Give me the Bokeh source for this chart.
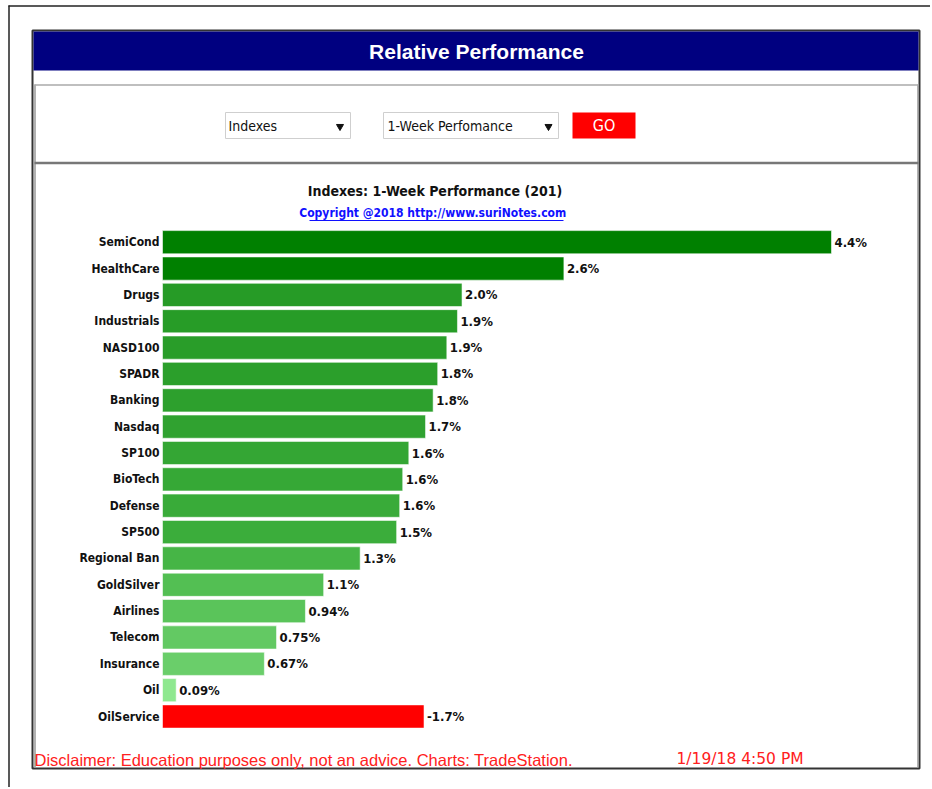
from bokeh.plotting import figure
from bokeh.models import Range1d, ColumnDataSource
from bokeh.embed import file_html
from bokeh.resources import INLINE
from bokeh.core.properties import value

# ---------------- data ----------------
categories = ["SemiCond", "HealthCare", "Drugs", "Industrials", "NASD100", "SPADR",
              "Banking", "Nasdaq", "SP100", "BioTech", "Defense", "SP500",
              "Regional Ban", "GoldSilver", "Airlines", "Telecom", "Insurance",
              "Oil", "OilService"]
perf = [4.40, 2.64, 1.97, 1.94, 1.87, 1.81, 1.78, 1.73, 1.62, 1.58, 1.56, 1.54,
        1.30, 1.06, 0.94, 0.75, 0.67, 0.09, -1.72]
perf_labels = ["4.4%", "2.6%", "2.0%", "1.9%", "1.9%", "1.8%", "1.8%", "1.7%",
               "1.6%", "1.6%", "1.6%", "1.5%", "1.3%", "1.1%", "0.94%", "0.75%",
               "0.67%", "0.09%", "-1.7%"]
bar_colors = ["#008000", "#008000", "#269b26", "#279c27", "#299d29", "#2b9f2b",
              "#2da02d", "#30a230", "#34a634", "#36a836", "#39ab39", "#3bad3b",
              "#46b546", "#53bf53", "#5ac45a", "#63c963", "#6ace6a", "#8fe88f",
              "#ff0000"]

chart_title = "Indexes: 1-Week Performance (201)"
copyright_text = "Copyright @2018   http://www.suriNotes.com"
header_text = "Relative Performance"
group_choice = "Indexes"
period_choice = "1-Week Perfomance"
disclaimer = "Disclaimer: Education purposes only, not an advice.  Charts: TradeStation."
timestamp = "1/19/18 4:50 PM"

# ---------------- layout (page pixels) ----------------
W, H = 930, 787
X0, Y0 = 0, 0
bar_zero_px, bar_max_px = 162, 831
first_row_px, row_step_px = 241.7, 26.35

mags = [abs(v) for v in perf]
ppu = (bar_max_px - bar_zero_px) / max(mags)

p = figure(width=W, height=H, output_backend="svg", toolbar_location=None,
           x_range=Range1d(X0, X0 + W), y_range=Range1d(Y0 + H, Y0),
           x_axis_type=None, y_axis_type=None, min_border=0,
           outline_line_color=None, background_fill_color="white",
           border_fill_color="white")
p.grid.visible = False

p.extra_x_ranges = {"v": Range1d(start=(X0 - bar_zero_px) / ppu,
                                 end=(X0 + W - bar_zero_px) / ppu)}
p.extra_y_ranges = {"c": Range1d(start=(Y0 + H - first_row_px) / row_step_px,
                                 end=(Y0 - first_row_px) / row_step_px)}

NARROW = value("'DejaVu Sans Condensed', 'Liberation Sans Narrow', Roboto, sans-serif")
SANS = value("Liberation Sans")

# outer frame
p.segment(x0=[8.5, 8], y0=[5, 5.5], x1=[8.5, 932], y1=[789, 5.5],
          line_color="#222222", line_width=1.5)
# inner box
p.quad(left=32, right=919, top=30, bottom=768, fill_color="white",
       line_color="#333333", line_width=2)
# navy header
p.quad(left=33, right=918, top=31, bottom=70, fill_color="#000080",
       line_color=None)
p.text(x=[476], y=[51], text=[header_text], text_align="center",
       text_baseline="middle", text_color="white", text_font=SANS,
       text_font_style="bold", text_font_size="21px")
# grey panels
p.segment(x0=[34.5, 917.5, 34, 34], y0=[84, 84, 84.5, 162.5],
          x1=[34.5, 917.5, 918, 918], y1=[767, 767, 84.5, 162.5],
          line_color=["#999999", "#999999", "#aaaaaa", "#777777"],
          line_width=[1.5, 1.5, 1.5, 2.5])

# controls
p.quad(left=[225, 383], right=[350, 558], top=[112, 112], bottom=[138, 138],
       fill_color="white", line_color="#cfcfcf", line_width=1)
p.text(x=[228, 387], y=[125, 125], text=[group_choice, period_choice],
       text_align="left", text_baseline="middle", text_color="#111111",
       text_font=NARROW, text_font_size="14px")
p.scatter(x=[339.5, 548], y=[126, 126], marker="inverted_triangle", size=7,
          fill_color="#111111", line_color="#111111")
p.quad(left=572, right=635, top=112, bottom=138, fill_color="#ff0000",
       line_color=None)
p.text(x=[603.5], y=[125], text=["GO"], text_align="center",
       text_baseline="middle", text_color="white", text_font=NARROW,
       text_font_size="16px")

# chart titles
p.text(x=[434.5], y=[190], text=[chart_title], text_align="center",
       text_baseline="middle", text_color="#111111", text_font=NARROW,
       text_font_style="bold", text_font_size="14px")
p.text(x=[436], y=[212], text=[copyright_text], text_align="center",
       text_baseline="middle", text_color="#1010ff", text_font=NARROW,
       text_font_style="bold", text_font_size="12px")
p.segment(x0=[309], y0=[220], x1=[563], y1=[220], line_color="#1010ff",
          line_width=1)

# bars
src = ColumnDataSource(dict(idx=list(range(len(categories))), mag=mags,
                            cat=categories, lab=perf_labels, col=bar_colors))
p.hbar(y="idx", left=0, right="mag", height=0.88, fill_color="col",
       line_color="white", line_alpha=0.55, line_width=1, source=src,
       x_range_name="v", y_range_name="c")
p.text(x=0, y="idx", text="cat", x_offset=-3, text_align="right",
       text_baseline="middle", text_color="#111111", text_font=NARROW,
       text_font_style="bold", text_font_size="12px", source=src,
       x_range_name="v", y_range_name="c")
p.text(x="mag", y="idx", text="lab", x_offset=3, text_align="left",
       text_baseline="middle", text_color="#111111", text_font=NARROW,
       text_font_style="bold", text_font_size="13px", source=src,
       x_range_name="v", y_range_name="c")

# footer
p.text(x=[34], y=[759], text=[disclaimer], text_align="left",
       text_baseline="middle", text_color="#ff2020", text_font=SANS,
       text_font_size="16.5px")
p.text(x=[676], y=[758], text=[timestamp], text_align="left",
       text_baseline="middle", text_color="#ff2020",
       text_font=value("DejaVu Sans"), text_font_size="15.5px")

open("out.html", "w").write(file_html(p, INLINE))
